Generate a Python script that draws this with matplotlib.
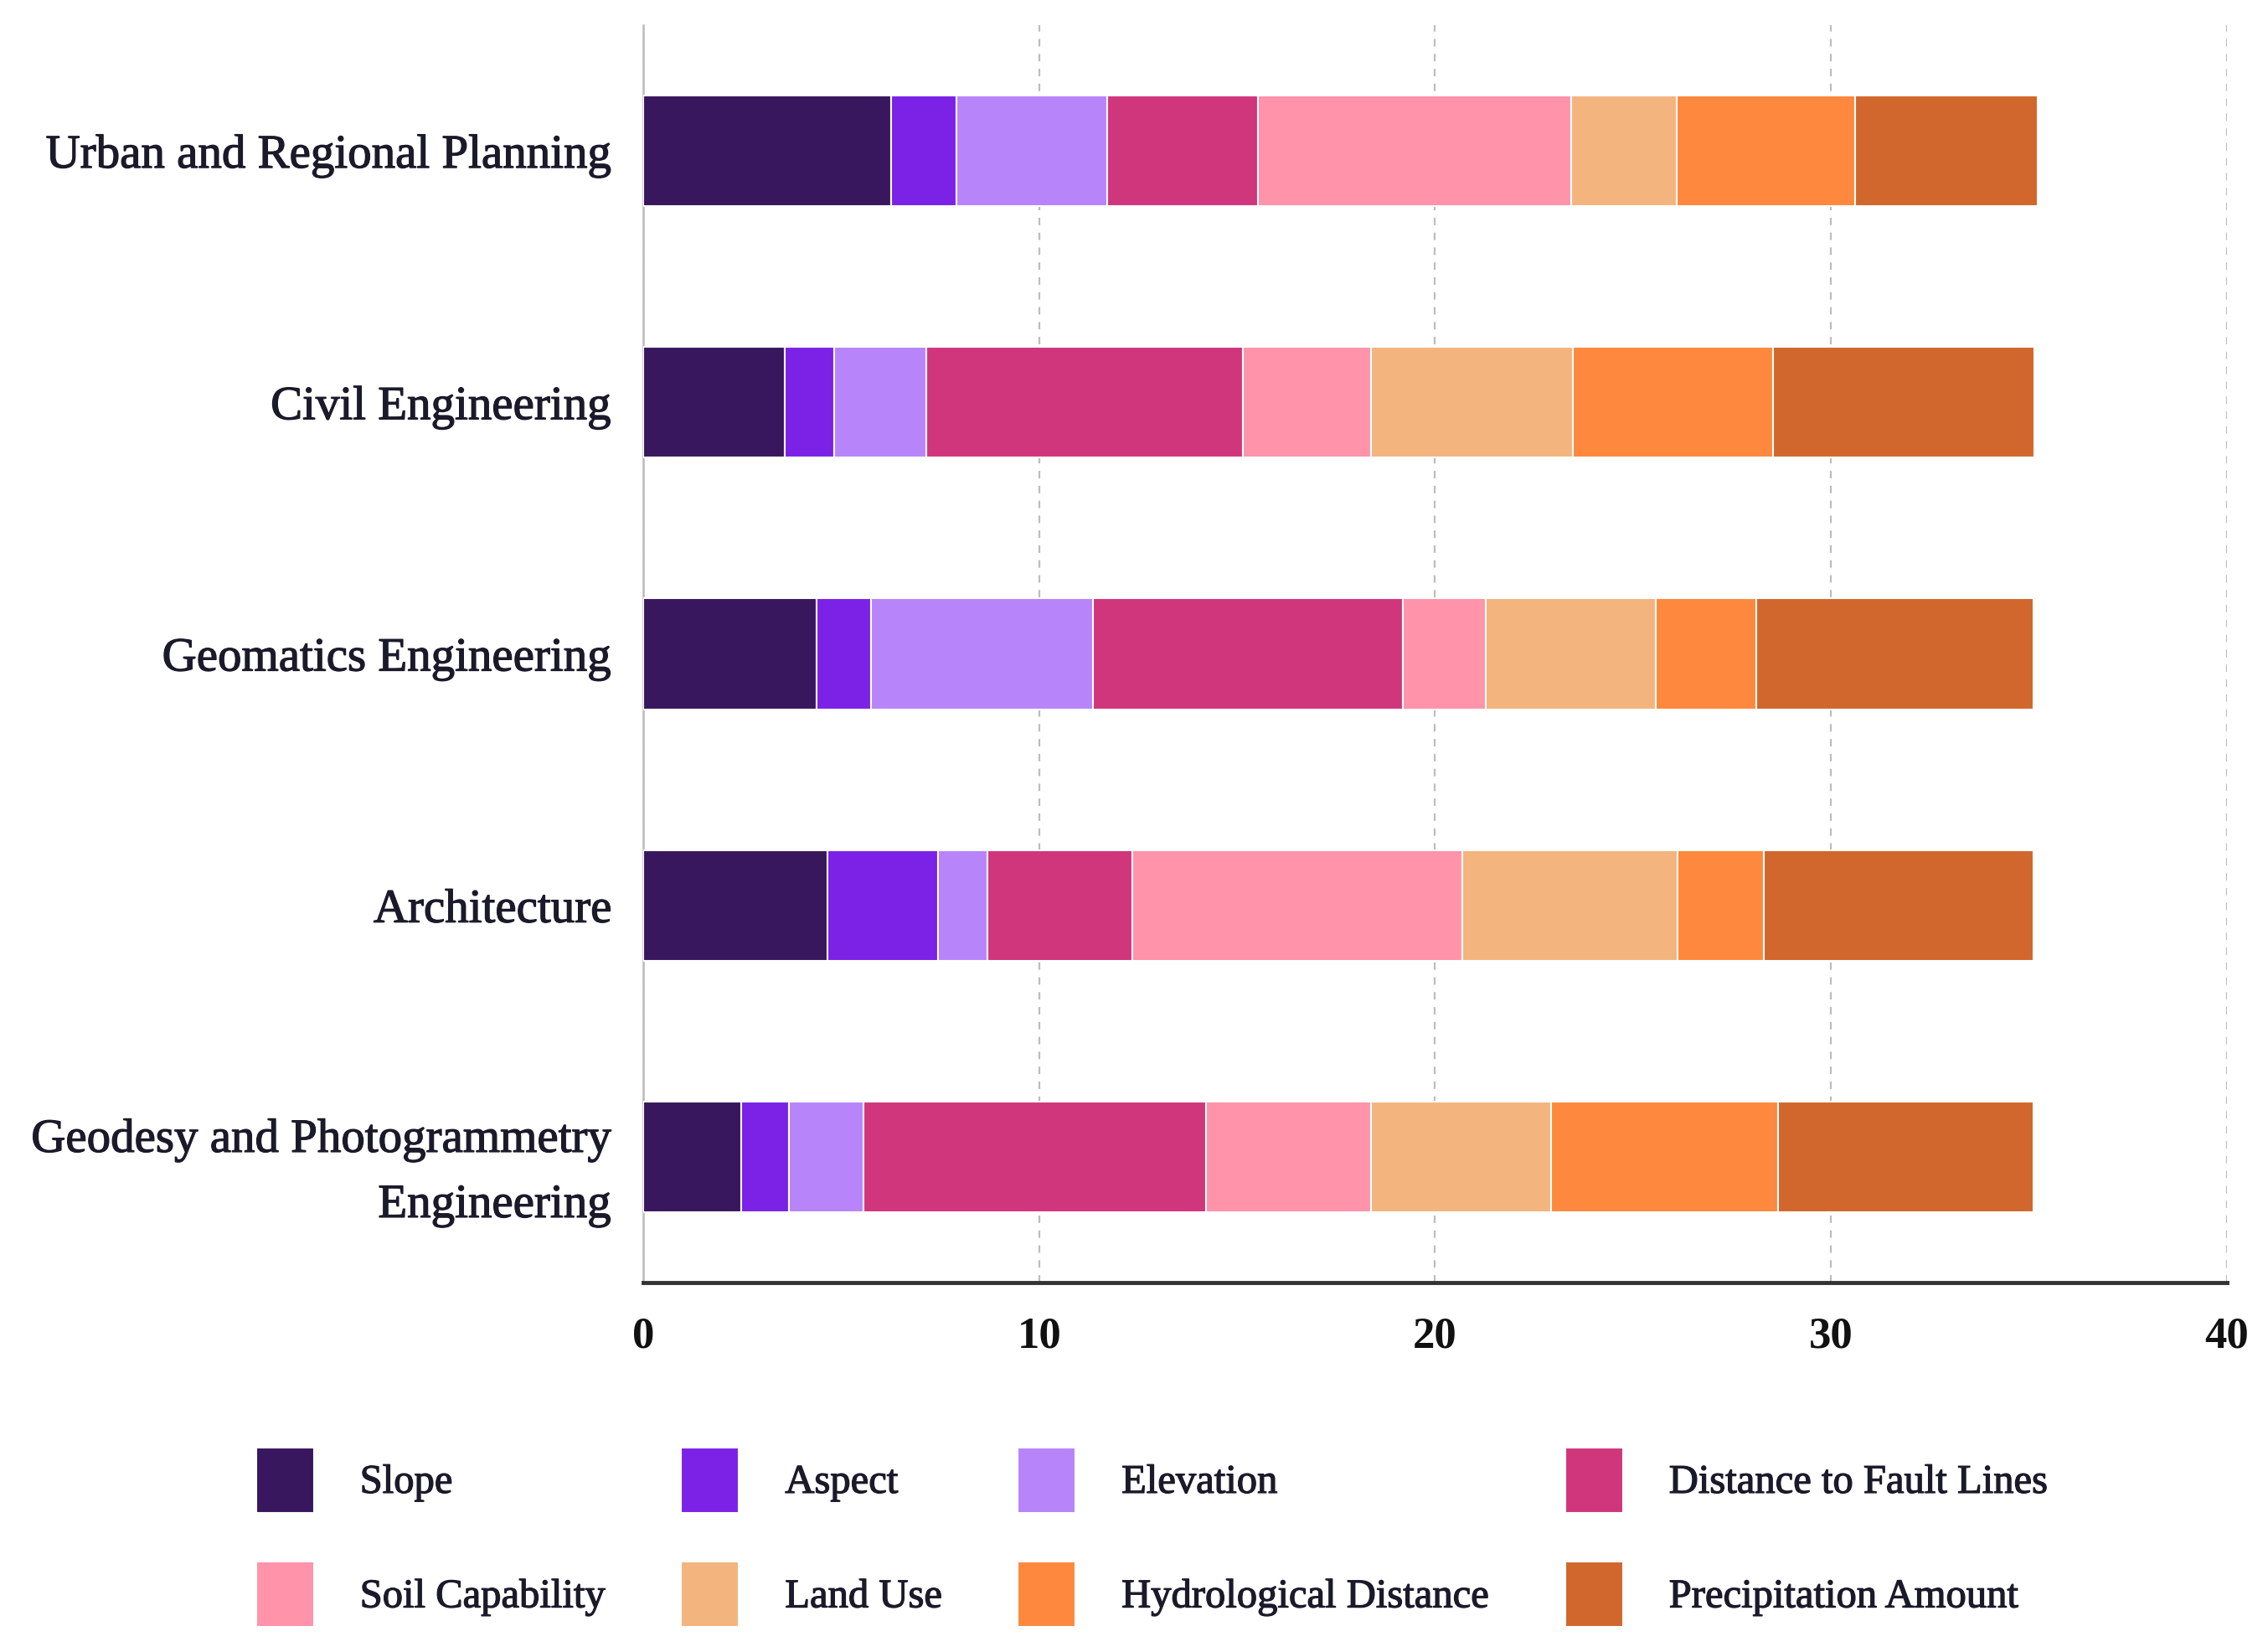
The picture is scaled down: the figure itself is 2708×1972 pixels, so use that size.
import matplotlib.pyplot as plt
import matplotlib.patheffects as pe
import numpy as np

plt.rcParams['font.family'] = ['Liberation Serif', 'DejaVu Serif']

# categories, top to bottom
disciplines = [
    "Urban and Regional Planning",
    "Civil Engineering",
    "Geomatics Engineering",
    "Architecture",
    "Geodesy and Photogrammetry\nEngineering",
]

criteria = ["Slope", "Aspect", "Elevation", "Distance to Fault Lines",
            "Soil Capability", "Land Use", "Hydrological Distance",
            "Precipitation Amount"]

# weights, one list per criterion (same order as disciplines)
slope = [6.27, 3.58, 4.38, 4.65, 2.47]
aspect = [1.64, 1.24, 1.38, 2.80, 1.22]
elevation = [3.81, 2.34, 5.60, 1.24, 1.87]
fault_lines = [3.80, 7.98, 7.83, 3.67, 8.65]
soil = [7.91, 3.24, 2.10, 8.33, 4.17]
land_use = [2.68, 5.10, 4.29, 5.44, 4.55]
hydro = [4.50, 5.05, 2.54, 2.17, 5.74]
precip = [4.62, 6.61, 7.00, 6.82, 6.45]

series = [slope, aspect, elevation, fault_lines, soil, land_use, hydro, precip]
colors = ["#38175e", "#7b22e6", "#b784fa", "#d0367b",
          "#fe93aa", "#f3b47e", "#fe883d", "#d1672c"]

fig = plt.figure(figsize=(27.08, 19.72), dpi=100)
ax = fig.add_axes([0.2836, 0.2236, 0.6983, 0.7612])

bold_fx = [pe.withStroke(linewidth=0.9, foreground="#1a1a2a")]

y = np.arange(len(disciplines))
left = np.zeros(len(disciplines))
handles = []
for name, vals, col in zip(criteria, series, colors):
    bars = ax.barh(y, vals, left=left, height=0.44, color=col, edgecolor="white",
                   linewidth=1.5, label=name, zorder=3)
    handles.append(bars)
    left += np.array(vals)

ax.set_ylim(-0.5, len(disciplines) - 0.5)
ax.invert_yaxis()
ax.set_xlim(0, 40)
ax.set_xticks([0, 10, 20, 30, 40])
ax.set_yticks(y)
ax.set_yticklabels(disciplines, fontsize=41, color="#1a1a2a",
                   linespacing=1.65, ha="right", multialignment="right")
for lab in ax.get_yticklabels():
    lab.set_path_effects(bold_fx)
ax.tick_params(axis="y", length=0, pad=27)
ax.tick_params(axis="x", length=0, pad=29, labelsize=38)
for lab in ax.get_xticklabels():
    lab.set_fontweight("bold")
    lab.set_color("#111111")

ax.grid(axis="x", linestyle=(0, (4, 4)), color="#bdbdbd", linewidth=1.6, zorder=0)
ax.grid(axis="y", visible=False)
for s in ["top", "right"]:
    ax.spines[s].set_visible(False)
ax.spines["left"].set_color("#bbbbbb")
ax.spines["left"].set_linewidth(1.8)
ax.spines["bottom"].set_color("#333333")
ax.spines["bottom"].set_linewidth(3.5)

# legend fills column by column, so reorder to read row by row
order = [0, 4, 1, 5, 2, 6, 3, 7]
leg = fig.legend([handles[i] for i in order], [criteria[i] for i in order],
                 loc="center", bbox_to_anchor=(0.508, 0.0695), ncol=4,
                 frameon=False, fontsize=35, handlelength=1.42, handleheight=2.1,
                 handletextpad=1.13, columnspacing=1.85, labelspacing=1.2,
                 labelcolor="#1a1a2a")
for t in leg.get_texts():
    t.set_path_effects(bold_fx)

fig.savefig("out.png", dpi=100, facecolor="white")
